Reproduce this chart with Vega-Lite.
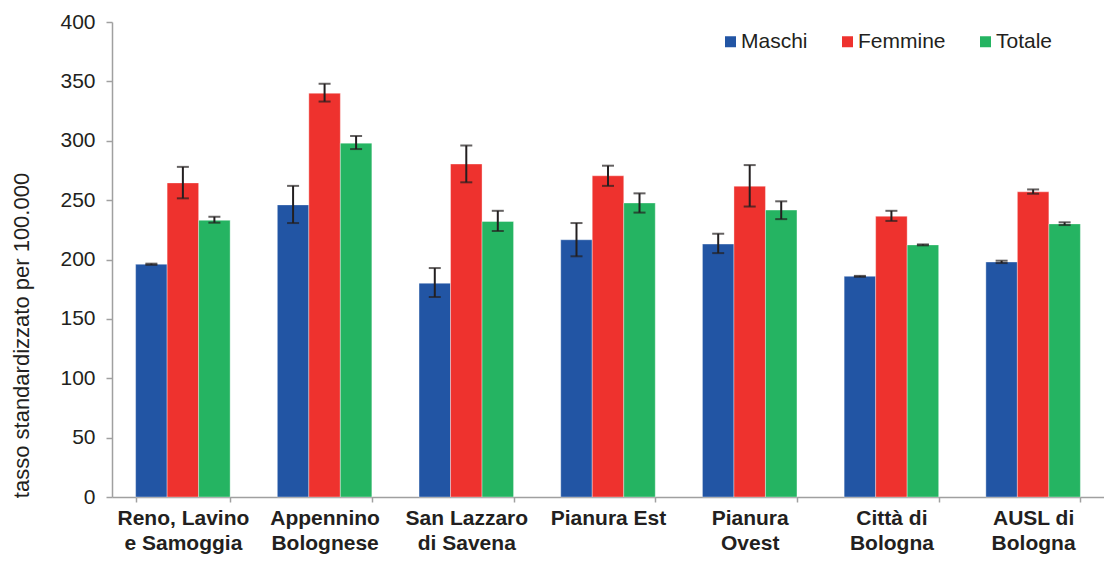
{
  "$schema": "https://vega.github.io/schema/vega-lite/v6.json",
  "autosize": "none",
  "padding": {"left": 112, "top": 22, "right": 0, "bottom": 64},
  "width": 992,
  "height": 475,
  "background": "white",
  "config": {
    "view": {"stroke": null},
    "font": "Liberation Sans"
  },
  "data": {
    "values": [
      {"area": "Reno, Lavino\ne Samoggia", "sesso": "Maschi", "tasso": 196, "lo": 195.5, "hi": 196.5},
      {"area": "Reno, Lavino\ne Samoggia", "sesso": "Femmine", "tasso": 264.5, "lo": 251.5, "hi": 278},
      {"area": "Reno, Lavino\ne Samoggia", "sesso": "Totale", "tasso": 233, "lo": 231, "hi": 236},
      {"area": "Appennino\nBolognese", "sesso": "Maschi", "tasso": 246, "lo": 230.7, "hi": 262},
      {"area": "Appennino\nBolognese", "sesso": "Femmine", "tasso": 340, "lo": 333, "hi": 348},
      {"area": "Appennino\nBolognese", "sesso": "Totale", "tasso": 298, "lo": 293, "hi": 304},
      {"area": "San Lazzaro\ndi Savena", "sesso": "Maschi", "tasso": 180, "lo": 168.4, "hi": 192.8},
      {"area": "San Lazzaro\ndi Savena", "sesso": "Femmine", "tasso": 280.4, "lo": 265, "hi": 296},
      {"area": "San Lazzaro\ndi Savena", "sesso": "Totale", "tasso": 232, "lo": 224, "hi": 241},
      {"area": "Pianura Est", "sesso": "Maschi", "tasso": 216.6, "lo": 202.7, "hi": 230.7},
      {"area": "Pianura Est", "sesso": "Femmine", "tasso": 270.5, "lo": 262, "hi": 279},
      {"area": "Pianura Est", "sesso": "Totale", "tasso": 247.6, "lo": 239.5, "hi": 255.7},
      {"area": "Pianura\nOvest", "sesso": "Maschi", "tasso": 213, "lo": 205.4, "hi": 221.7},
      {"area": "Pianura\nOvest", "sesso": "Femmine", "tasso": 261.7, "lo": 244.6, "hi": 279.5},
      {"area": "Pianura\nOvest", "sesso": "Totale", "tasso": 241.6, "lo": 234, "hi": 249},
      {"area": "Città di\nBologna", "sesso": "Maschi", "tasso": 185.8, "lo": 185.4, "hi": 186.2},
      {"area": "Città di\nBologna", "sesso": "Femmine", "tasso": 236.4, "lo": 232.5, "hi": 241},
      {"area": "Città di\nBologna", "sesso": "Totale", "tasso": 212.3, "lo": 211.9, "hi": 212.7},
      {"area": "AUSL di\nBologna", "sesso": "Maschi", "tasso": 197.9, "lo": 197, "hi": 199},
      {"area": "AUSL di\nBologna", "sesso": "Femmine", "tasso": 257, "lo": 255.4, "hi": 259},
      {"area": "AUSL di\nBologna", "sesso": "Totale", "tasso": 230, "lo": 229, "hi": 231.3}
    ]
  },
  "encoding": {
    "x": {
      "field": "area",
      "type": "nominal",
      "sort": null,
      "scale": {"paddingInner": 0.333, "paddingOuter": 0.1667},
      "axis": {
        "title": null,
        "labelAngle": 0,
        "labelExpr": "split(datum.label, '\\n')",
        "labelFont": "Liberation Sans",
        "labelFontWeight": "bold",
        "labelFontSize": 21,
        "labelColor": "#231F20",
        "labelLineHeight": 25,
        "labelPadding": 5,
        "tickBand": "extent",
        "tickSize": 5,
        "tickColor": "#A0A0A0",
        "tickWidth": 1.5,
        "domainColor": "#A0A0A0",
        "domainWidth": 1.5
      }
    },
    "xOffset": {
      "field": "sesso",
      "type": "nominal",
      "sort": ["Maschi", "Femmine", "Totale"],
      "scale": {"paddingInner": 0, "paddingOuter": 0}
    }
  },
  "layer": [
    {
      "mark": {"type": "bar", "stroke": "white", "strokeWidth": 0.6, "strokeOpacity": 0.6},
      "encoding": {
        "y": {
          "field": "tasso",
          "type": "quantitative",
          "scale": {"domain": [0, 400], "nice": false},
          "axis": {
            "title": "tasso standardizzato per 100.000",
            "titleFont": "Liberation Sans",
            "titleFontWeight": "normal",
            "titleFontSize": 22,
            "titleColor": "#231F20",
            "titleX": -84,
            "titleY": 313,
            "titleAngle": -90,
            "titleAlign": "center",
            "titleBaseline": "alphabetic",
            "values": [0, 50, 100, 150, 200, 250, 300, 350, 400],
            "grid": false,
            "labelFont": "Liberation Sans",
            "labelFontSize": 21,
            "labelColor": "#231F20",
            "labelPadding": 11,
            "tickSize": 6,
            "tickColor": "#A0A0A0",
            "tickWidth": 1.5,
            "domainColor": "#A0A0A0",
            "domainWidth": 1.5
          }
        },
        "color": {
          "field": "sesso",
          "type": "nominal",
          "sort": ["Maschi", "Femmine", "Totale"],
          "scale": {"domain": ["Maschi", "Femmine", "Totale"], "range": ["#2255A4", "#EE322E", "#25B462"]},
          "legend": {
            "title": null,
            "orient": "none",
            "legendX": 608,
            "legendY": 9,
            "direction": "horizontal",
            "symbolType": "square",
            "symbolSize": 121,
            "symbolStrokeWidth": 0,
            "labelFont": "Liberation Sans",
            "labelFontSize": 21,
            "labelColor": "#231F20",
            "labelOffset": 0,
            "columnPadding": 29
          }
        }
      }
    },
    {
      "mark": {"type": "rule", "color": "#231F20", "strokeWidth": 2},
      "encoding": {
        "y": {"field": "lo", "type": "quantitative"},
        "y2": {"field": "hi"}
      }
    },
    {
      "mark": {"type": "tick", "color": "#231F20", "thickness": 2, "size": 12, "orient": "horizontal"},
      "encoding": {
        "y": {"field": "lo", "type": "quantitative"}
      }
    },
    {
      "mark": {"type": "tick", "color": "#231F20", "thickness": 2, "size": 12, "orient": "horizontal"},
      "encoding": {
        "y": {"field": "hi", "type": "quantitative"}
      }
    }
  ]
}
